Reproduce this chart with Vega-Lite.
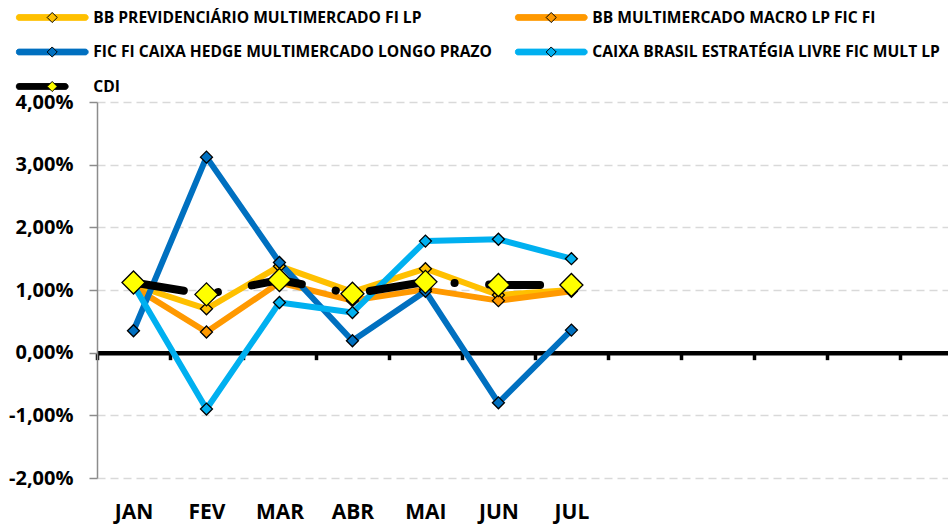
{
  "$schema": "https://vega.github.io/schema/vega-lite/v6.json",
  "width": 851,
  "height": 376,
  "autosize": {"type": "none"},
  "padding": {"left": 97, "top": 102, "right": 0, "bottom": 46},
  "background": "white",
  "config": {"view": {"stroke": null}, "font": "Open Sans"},
  "data": {
    "values": [
      {"mes": 1, "serie": "BB PREVIDENCIÁRIO MULTIMERCADO FI LP", "valor": 1.08},
      {"mes": 2, "serie": "BB PREVIDENCIÁRIO MULTIMERCADO FI LP", "valor": 0.70},
      {"mes": 3, "serie": "BB PREVIDENCIÁRIO MULTIMERCADO FI LP", "valor": 1.38},
      {"mes": 4, "serie": "BB PREVIDENCIÁRIO MULTIMERCADO FI LP", "valor": 0.97},
      {"mes": 5, "serie": "BB PREVIDENCIÁRIO MULTIMERCADO FI LP", "valor": 1.34},
      {"mes": 6, "serie": "BB PREVIDENCIÁRIO MULTIMERCADO FI LP", "valor": 0.92},
      {"mes": 7, "serie": "BB PREVIDENCIÁRIO MULTIMERCADO FI LP", "valor": 1.00},
      {"mes": 1, "serie": "BB MULTIMERCADO MACRO LP FIC FI", "valor": 1.05},
      {"mes": 2, "serie": "BB MULTIMERCADO MACRO LP FIC FI", "valor": 0.33},
      {"mes": 3, "serie": "BB MULTIMERCADO MACRO LP FIC FI", "valor": 1.12},
      {"mes": 4, "serie": "BB MULTIMERCADO MACRO LP FIC FI", "valor": 0.83},
      {"mes": 5, "serie": "BB MULTIMERCADO MACRO LP FIC FI", "valor": 1.01},
      {"mes": 6, "serie": "BB MULTIMERCADO MACRO LP FIC FI", "valor": 0.83},
      {"mes": 7, "serie": "BB MULTIMERCADO MACRO LP FIC FI", "valor": 0.98},
      {"mes": 1, "serie": "FIC FI CAIXA HEDGE MULTIMERCADO LONGO PRAZO", "valor": 0.35},
      {"mes": 2, "serie": "FIC FI CAIXA HEDGE MULTIMERCADO LONGO PRAZO", "valor": 3.12},
      {"mes": 3, "serie": "FIC FI CAIXA HEDGE MULTIMERCADO LONGO PRAZO", "valor": 1.44},
      {"mes": 4, "serie": "FIC FI CAIXA HEDGE MULTIMERCADO LONGO PRAZO", "valor": 0.19},
      {"mes": 5, "serie": "FIC FI CAIXA HEDGE MULTIMERCADO LONGO PRAZO", "valor": 0.98},
      {"mes": 6, "serie": "FIC FI CAIXA HEDGE MULTIMERCADO LONGO PRAZO", "valor": -0.80},
      {"mes": 7, "serie": "FIC FI CAIXA HEDGE MULTIMERCADO LONGO PRAZO", "valor": 0.36},
      {"mes": 1, "serie": "CAIXA BRASIL ESTRATÉGIA LIVRE FIC MULT LP", "valor": 1.08},
      {"mes": 2, "serie": "CAIXA BRASIL ESTRATÉGIA LIVRE FIC MULT LP", "valor": -0.90},
      {"mes": 3, "serie": "CAIXA BRASIL ESTRATÉGIA LIVRE FIC MULT LP", "valor": 0.80},
      {"mes": 4, "serie": "CAIXA BRASIL ESTRATÉGIA LIVRE FIC MULT LP", "valor": 0.64},
      {"mes": 5, "serie": "CAIXA BRASIL ESTRATÉGIA LIVRE FIC MULT LP", "valor": 1.78},
      {"mes": 6, "serie": "CAIXA BRASIL ESTRATÉGIA LIVRE FIC MULT LP", "valor": 1.81},
      {"mes": 7, "serie": "CAIXA BRASIL ESTRATÉGIA LIVRE FIC MULT LP", "valor": 1.50},
      {"mes": 1, "serie": "CDI", "valor": 1.12},
      {"mes": 2, "serie": "CDI", "valor": 0.93},
      {"mes": 3, "serie": "CDI", "valor": 1.16},
      {"mes": 4, "serie": "CDI", "valor": 0.94},
      {"mes": 5, "serie": "CDI", "valor": 1.13},
      {"mes": 6, "serie": "CDI", "valor": 1.08},
      {"mes": 7, "serie": "CDI", "valor": 1.08}
    ]
  },
  "encoding": {
    "x": {
      "field": "mes",
      "type": "quantitative",
      "scale": {"domain": [0.5, 12.16], "nice": false, "zero": false},
      "axis": {
        "orient": "bottom",
        "offset": -125.33,
        "values": [0.5, 1, 1.5, 2, 2.5, 3, 3.5, 4, 4.5, 5, 5.5, 6, 6.5, 7, 7.5, 8.5, 9.5, 10.5, 11.5],
        "title": null,
        "grid": false,
        "domainColor": "black",
        "domainWidth": 4.5,
        "tickColor": {"condition": {"test": "datum.value % 1 === 0", "value": "transparent"}, "value": "black"},
        "tickWidth": 3.5,
        "tickSize": 7,
        "labelExpr": "datum.value % 1 === 0 && datum.value <= 7 ? ['JAN','FEV','MAR','ABR','MAI','JUN','JUL'][datum.value - 1] : ''",
        "labelFont": "Open Sans",
        "labelFontWeight": "bold",
        "labelFontSize": 21,
        "labelColor": "black",
        "labelBaseline": "middle",
        "labelPadding": 153,
        "labelOverlap": false,
        "labelFlush": false
      }
    },
    "y": {
      "field": "valor",
      "type": "quantitative",
      "scale": {"domain": [-2, 4], "nice": false, "zero": false},
      "axis": {
        "values": [-2, -1, 0, 1, 2, 3, 4],
        "title": null,
        "labelExpr": "replace(replace(format(datum.value, '.2f'), '.', ','), '\u2212', '-') + '%'",
        "domainColor": "#8c8c8c",
        "domainWidth": 1.5,
        "tickColor": "#8c8c8c",
        "tickWidth": 1.5,
        "tickSize": 8,
        "labelFont": "Open Sans",
        "labelFontWeight": "bold",
        "labelFontSize": 20,
        "labelColor": "black",
        "labelPadding": 16,
        "grid": true,
        "gridColor": "#d9d9d9",
        "gridDash": [8, 5],
        "gridWidth": 1.5
      }
    }
  },
  "layer": [
    {
      "transform": [{"filter": "datum.serie !== 'CDI'"}],
      "mark": {"type": "line", "strokeWidth": 6, "strokeJoin": "round", "strokeCap": "round"},
      "encoding": {
        "color": {
          "field": "serie",
          "type": "nominal",
          "scale": {
            "domain": ["BB PREVIDENCIÁRIO MULTIMERCADO FI LP", "BB MULTIMERCADO MACRO LP FIC FI", "FIC FI CAIXA HEDGE MULTIMERCADO LONGO PRAZO", "CAIXA BRASIL ESTRATÉGIA LIVRE FIC MULT LP", "CDI"],
            "range": ["#FFC000", "#FF9900", "#0070C0", "#00B0F0", "#000000"]
          },
          "legend": {
            "orient": "none",
            "direction": "horizontal",
            "legendX": -81.3,
            "legendY": -94.5,
            "columns": 2,
            "title": null,
            "padding": 0,
            "symbolType": "M-0.92,-0.08L0.92,-0.08A0.08,0.08 0 0 1 0.92,0.08L-0.92,0.08A0.08,0.08 0 0 1 -0.92,-0.08Z",
            "symbolSize": 5184,
            "symbolStrokeWidth": 1,
            "clipHeight": 20,
            "rowPadding": 14.5,
            "columnPadding": 22,
            "labelOffset": 4.6,
            "labelFont": "Open Sans",
            "labelFontSize": 15.6,
            "labelFontWeight": "bold",
            "labelColor": "black",
            "labelLimit": 1000,
            "encode": {
              "symbols": {
                "update": {
                  "fill": {"scale": "color", "field": "value"},
                  "stroke": {"scale": "color", "field": "value"},
                  "strokeWidth": {"value": 1},
                  "strokeDash": {"value": [1, 0]},
                  "opacity": {"value": 1},
                  "shape": {"signal": "datum.value === 'CDI' ? 'M-0.92,-0.083L0.36,-0.083A0.083,0.083 0 0 1 0.36,0.083L-0.92,0.083A0.083,0.083 0 0 1 -0.92,-0.083Z' : 'M-0.92,-0.08L0.92,-0.08A0.08,0.08 0 0 1 0.92,0.08L-0.92,0.08A0.08,0.08 0 0 1 -0.92,-0.08Z'"}
                }
              }
            }
          }
        }
      }
    },
    {
      "transform": [{"filter": "datum.serie === 'CDI'"}],
      "mark": {"type": "line", "strokeWidth": 8, "strokeCap": "round", "strokeJoin": "round", "strokeDash": [51, 34.5, 0.1, 34.5]},
      "encoding": {
        "color": {"field": "serie", "type": "nominal"}
      }
    },
    {
      "mark": {"type": "point", "shape": "diamond", "filled": true, "stroke": "black", "strokeWidth": 1.3, "opacity": 1},
      "encoding": {
        "fill": {
          "field": "serie",
          "type": "nominal",
          "sort": ["BB PREVIDENCIÁRIO MULTIMERCADO FI LP", "BB MULTIMERCADO MACRO LP FIC FI", "FIC FI CAIXA HEDGE MULTIMERCADO LONGO PRAZO", "CAIXA BRASIL ESTRATÉGIA LIVRE FIC MULT LP", "CDI"],
          "scale": {"range": ["#FFC000", "#FF9900", "#0070C0", "#00B0F0", "#FFFF00"]},
          "legend": {
            "orient": "none",
            "direction": "horizontal",
            "legendX": -81.3,
            "legendY": -94.5,
            "columns": 2,
            "title": null,
            "padding": 0,
            "symbolType": "M0,-0.14L0.14,0L0,0.14L-0.14,0Z",
            "symbolSize": 5184,
            "symbolStrokeWidth": 1,
            "symbolStrokeColor": "black",
            "clipHeight": 20,
            "rowPadding": 14.5,
            "columnPadding": 22,
            "labelOffset": 4.6,
            "labelFont": "Open Sans",
            "labelFontSize": 15.6,
            "labelFontWeight": "bold",
            "labelColor": "black",
            "labelOpacity": 0,
            "labelLimit": 1000,
            "encode": {
              "symbols": {
                "update": {
                  "fill": {"scale": "fill", "field": "value"},
                  "stroke": {"value": "black"},
                  "strokeWidth": {"value": 1},
                  "opacity": {"value": 1},
                  "shape": {"signal": "datum.value === 'CDI' ? 'M0,-0.11L0.11,0L0,0.11L-0.11,0Z' : 'M0,-0.14L0.14,0L0,0.14L-0.14,0Z'"}
                }
              }
            }
          }
        },
        "size": {"condition": {"test": "datum.serie === 'CDI'", "value": 530}, "value": 144}
      }
    }
  ]
}
